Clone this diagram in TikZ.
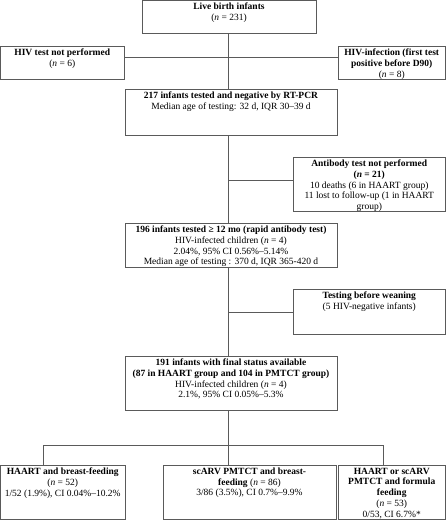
\documentclass[tikz,border=0pt]{standalone}
\usepackage{fontspec}
\setmainfont{Liberation Serif}
\usetikzlibrary{fit}
\definecolor{linec}{RGB}{90,90,90}
\begin{document}
\begin{tikzpicture}[x=1pt,y=-1pt,
  box/.style={draw=linec, line width=0.8pt, inner sep=0pt},
  txt/.style={anchor=north, align=center, inner sep=0pt, font=\fontsize{9.5}{10.8}\selectfont},
  conn/.style={draw=linec, line width=0.8pt}]
\useasboundingbox (0,0) rectangle (446,520);
% boxes
\node[box, fit={(142,0.5)(316,33)}] (top) {};
\node[box, fit={(0.5,46)(124,79)}] (left1) {};
\node[box, fit={(338,46)(445.5,79)}] (right1) {};
\node[box, fit={(125,89)(337,135)}] (b217) {};
\node[box, fit={(293,157)(445.5,211)}] (anti) {};
\node[box, fit={(125,223)(337,267)}] (b196) {};
\node[box, fit={(293,289)(445.5,334)}] (test) {};
\node[box, fit={(125,356)(337,410)}] (b191) {};
\node[box, fit={(0.5,465)(125,519.5)}] (bl) {};
\node[box, fit={(163,465)(336,519.5)}] (bm) {};
\node[box, fit={(338,465)(445.5,519.5)}] (br) {};
% texts
\node[txt] (top-t) at ([yshift=-3pt]top.north) {\textbf{Live birth infants}\\(\textit{n} = 231)};
\node[txt] (left1-t) at ([yshift=-3pt]left1.north) {\textbf{HIV test not performed}\\(\textit{n} = 6)};
\node[txt] (right1-t) at ([yshift=-3pt]right1.north) {\textbf{HIV-infection (first test}\\\textbf{positive before D90)}\\(\textit{n} = 8)};
\node[txt] (b217-t) at ([yshift=-3pt]b217.north) {\textbf{217 infants tested and negative by RT-PCR}\\Median age of testing: 32 d, IQR 30–39 d};
\node[txt] (anti-t) at ([yshift=-3pt]anti.north) {\textbf{Antibody test not performed}\\\textbf{(\textit{n} = 21)}\\10 deaths (6 in HAART group)\\11 lost to follow-up (1 in HAART\\group)};
\node[txt] (b196-t) at ([yshift=-3pt]b196.north) {\textbf{196 infants tested ≥ 12 mo (rapid antibody test)}\\HIV-infected children (\textit{n} = 4)\\2.04\%, 95\% CI 0.56\%–5.14\%\\Median age of testing : 370 d, IQR 365-420 d};
\node[txt] (test-t) at ([yshift=-3pt]test.north) {\textbf{Testing before weaning}\\(5 HIV-negative infants)};
\node[txt] (b191-t) at ([yshift=-3pt]b191.north) {\textbf{191 infants with final status available}\\\textbf{(87 in HAART group and 104 in PMTCT group)}\\HIV-infected children (\textit{n} = 4)\\2.1\%, 95\% CI 0.05\%–5.3\%};
\node[txt] (bl-t) at ([yshift=-3pt]bl.north) {\textbf{HAART and breast-feeding}\\(\textit{n} = 52)\\1/52 (1.9\%), CI 0.04\%–10.2\%};
\node[txt] (bm-t) at ([yshift=-3pt]bm.north) {\textbf{scARV PMTCT and breast-}\\\textbf{feeding} (\textit{n} = 86)\\3/86 (3.5\%), CI 0.7\%–9.9\%};
\node[txt] (br-t) at ([yshift=-3pt]br.north) {\textbf{HAART or scARV}\\\textbf{PMTCT and formula}\\\textbf{feeding}\\(\textit{n} = 53)\\0/53, CI 6.7\%*};
% coordinates
\coordinate (sp) at (228,0);
\coordinate (h1) at (0,57);
\coordinate (h2) at (0,180);
\coordinate (h3) at (0,312);
\coordinate (bus) at (228,445);
\coordinate (busl) at (43,445);
\coordinate (busr) at (383,445);
% connectors
\draw[conn] (top.south -| sp) -- (b217.north -| sp);
\draw[conn] (left1.east |- h1) -- (right1.west |- h1);
\draw[conn] (b217.south -| sp) -- (b196.north -| sp);
\draw[conn] (sp |- h2) -- (anti.west |- h2);
\draw[conn] (b196.south -| sp) -- (b191.north -| sp);
\draw[conn] (sp |- h3) -- (test.west |- h3);
\draw[conn] (b191.south -| sp) -- (bus);
\draw[conn] (busl) -- (busr);
\draw[conn] (busl) -- (bl.north -| busl);
\draw[conn] (bus) -- (bm.north -| bus);
\draw[conn] (busr) -- (br.north -| busr);
\end{tikzpicture}
\end{document}
